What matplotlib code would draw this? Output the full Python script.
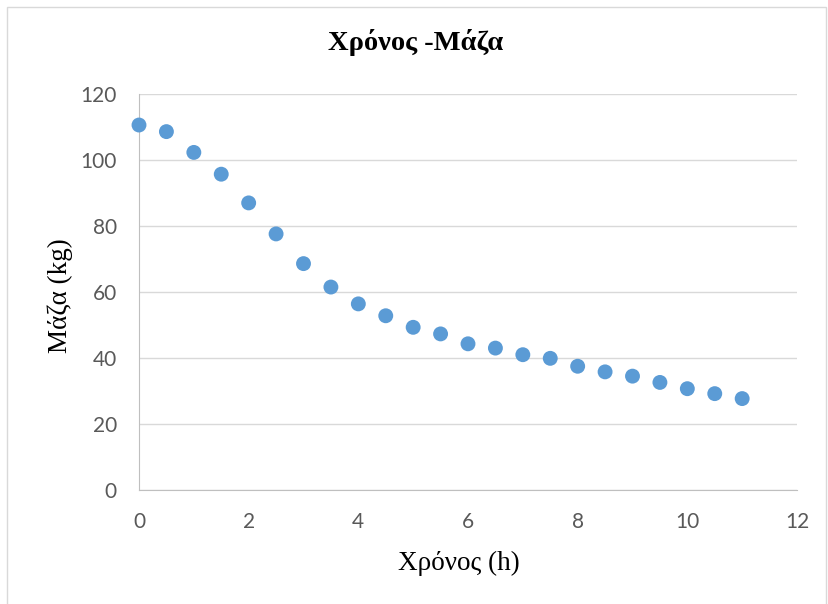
import matplotlib
matplotlib.use("Agg")
import matplotlib.pyplot as plt
from matplotlib.patches import Rectangle

time_h = [0, 0.5, 1, 1.5, 2, 2.5, 3, 3.5, 4, 4.5, 5, 5.5, 6, 6.5, 7, 7.5, 8, 8.5, 9, 9.5, 10, 10.5, 11]
mass_kg = [110.6, 108.6, 102.3, 95.7, 87.0, 77.6, 68.6, 61.5, 56.4, 52.8, 49.3, 47.3, 44.3, 43.0,
           41.0, 39.9, 37.5, 35.8, 34.5, 32.6, 30.7, 29.2, 27.7]
x_ticks = [0, 2, 4, 6, 8, 10, 12]
y_ticks = [0, 20, 40, 60, 80, 100, 120]
title = "Χρόνος -Μάζα"
xlabel = "Χρόνος (h)"
ylabel = "Μάζα (kg)"

W, H = 829, 604
fig = plt.figure(figsize=(W / 100, H / 100), dpi=100)
fig.patch.set_facecolor("white")
fig.patches.append(Rectangle((7 / W, -0.01), (826 - 7) / W, 1 - 7 / H + 0.01, transform=fig.transFigure,
                             fill=False, edgecolor="#d9d9d9", linewidth=1.0))

ax = fig.add_axes([139 / W, 1 - 490 / H, (797 - 139) / W, (490 - 94) / H])
ax.scatter(time_h, mass_kg, s=115, color="#5B9BD5", edgecolors="none", zorder=3, clip_on=False)
ax.set_xlim(0, 12)
ax.set_ylim(0, 120)
ax.set_xticks(x_ticks)
ax.set_yticks(y_ticks)
ax.grid(axis="y", color="#d9d9d9", linewidth=1.0)
ax.set_axisbelow(True)
for s in ["top", "right"]:
    ax.spines[s].set_visible(False)
ax.spines["left"].set_color("#bfbfbf")
ax.spines["bottom"].set_color("#bfbfbf")
ax.tick_params(length=0, labelsize=15, labelcolor="#595959", pad=16)
for lab in ax.get_xticklabels() + ax.get_yticklabels():
    lab.set_family("Lato")

fig.text(416 / W, 1 - 43 / H, title, ha="center", va="center", fontsize=20.5, fontweight="bold",
         family="Liberation Serif", color="black")
fig.text(459 / W, 1 - 563 / H, xlabel, ha="center", va="center", fontsize=19.5,
         family="Liberation Serif", color="black")
fig.text(60 / W, 1 - 296 / H, ylabel, ha="center", va="center", rotation=90, fontsize=19.5,
         family="Liberation Serif", color="black")

fig.savefig("out.png", dpi=100, facecolor="white")
